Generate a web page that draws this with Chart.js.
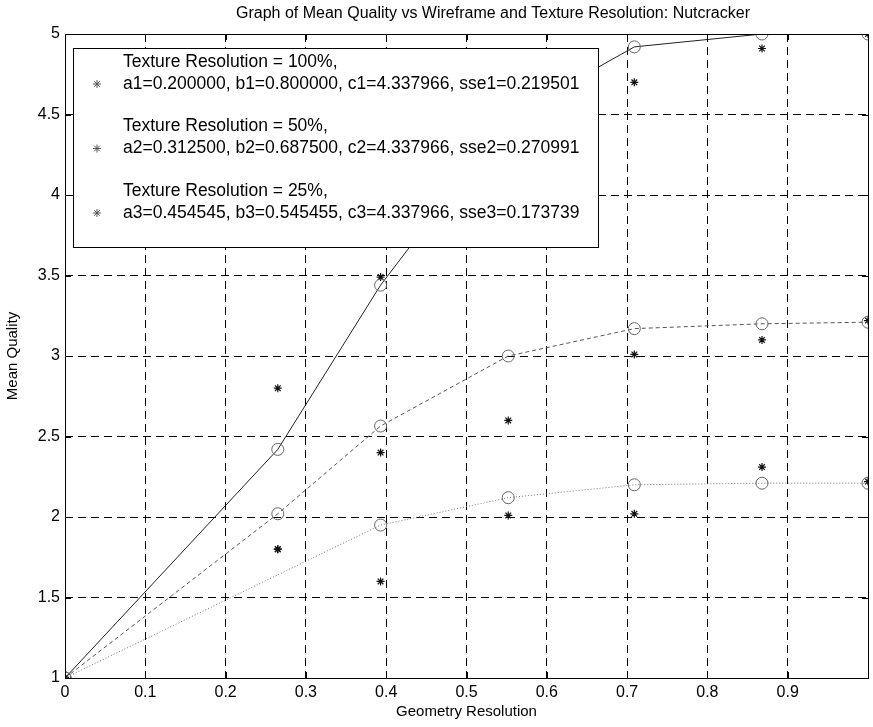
<!DOCTYPE html>
<html lang="en">
<head>
<meta charset="UTF-8">
<title>Mean Quality vs Geometry Resolution</title>
<script src="https://cdn.jsdelivr.net/npm/chart.js"></script>
<style>
    body { margin: 0; background: #fff; }
    #wrap { width: 873px; height: 727px; position: relative; }
</style>
</head>
<body>
<div id="wrap"><canvas id="qualityChart"></canvas></div>
<script>
// geometry resolution levels that were tested
const geometryRes = [0, 0.265, 0.393, 0.552, 0.709, 0.868, 1.0];

// fitted curves (circles), one per texture resolution
const fit100 = [1, 2.42, 3.44, 4.48, 4.92, 5.0, 5.0];
const fit50 = [1, 2.02, 2.565, 3.0, 3.17, 3.2, 3.21];
const fit25 = [1, null, 1.95, 2.12, 2.2, 2.21, 2.21];

// measured mean quality (stars)
const data100 = [1, 2.8, 3.49, 4.4, 4.7, 4.91, 5.0];
const data50 = [1, 1.8, 2.4, 2.6, 3.01, 3.1, 3.22];
const data25 = [1, 1.8, 1.6, 2.01, 2.02, 2.31, 2.22];

// the label at 1 falls off the right edge, so it stays blank
const xTicks = [0, 0.1, 0.2, 0.3, 0.4, 0.5, 0.6, 0.7, 0.8, 0.9, 1];
const xTickLabels = ['0', '0.1', '0.2', '0.3', '0.4', '0.5', '0.6', '0.7', '0.8', '0.9', ''];
const yTicks = [1, 1.5, 2, 2.5, 3, 3.5, 4, 4.5, 5];

const chartTitle = 'Graph of Mean Quality vs Wireframe and Texture Resolution: Nutcracker';
const legendLines = [
    ['Texture Resolution = 100%,', 'a1=0.200000, b1=0.800000, c1=4.337966, sse1=0.219501'],
    ['Texture Resolution = 50%,', 'a2=0.312500, b2=0.687500, c2=4.337966, sse2=0.270991'],
    ['Texture Resolution = 25%,', 'a3=0.454545, b3=0.545455, c3=4.337966, sse3=0.173739']
];

const FONT = '"Liberation Sans", Arial, sans-serif';

function pts(ys) {
    return geometryRes.map((x, i) => ({ x: x, y: ys[i] }));
}

function fitSet(ys, dash, color) {
    return {
        data: pts(ys),
        showLine: true,
        spanGaps: true,
        borderColor: color,
        borderWidth: 1,
        borderDash: dash,
        pointStyle: 'circle',
        pointRadius: 6,
        pointBorderColor: '#666',
        pointBackgroundColor: 'rgba(0,0,0,0)',
        pointBorderWidth: 1,
        fill: false,
        tension: 0
    };
}

function starSet(ys) {
    return {
        data: pts(ys),
        showLine: false,
        pointStyle: 'star',
        pointRadius: 4,
        pointBorderColor: '#111',
        pointBorderWidth: 1.2
    };
}

function drawStar(ctx, x, y, r) {
    ctx.beginPath();
    for (let k = 0; k < 4; k++) {
        const a = k * Math.PI / 4;
        ctx.moveTo(x - r * Math.cos(a), y - r * Math.sin(a));
        ctx.lineTo(x + r * Math.cos(a), y + r * Math.sin(a));
    }
    ctx.stroke();
}

// title, box, inward tick marks and the legend panel
const framePlugin = {
    id: 'frame',
    afterDraw(chart) {
        const ctx = chart.ctx;
        const a = chart.chartArea;
        const xs = chart.scales.x, ys = chart.scales.y;
        ctx.save();

        ctx.fillStyle = '#000';
        ctx.font = '16px ' + FONT;
        ctx.textAlign = 'center';
        ctx.textBaseline = 'middle';
        ctx.fillText(chartTitle, 493, 14);

        ctx.strokeStyle = '#000';
        ctx.lineWidth = 1;
        ctx.setLineDash([]);
        ctx.strokeRect(a.left + 0.5, a.top + 0.5, a.right - a.left, a.bottom - a.top);
        ctx.beginPath();
        xTicks.forEach(v => {
            const px = Math.round(xs.getPixelForValue(v)) + 0.5;
            ctx.moveTo(px, a.bottom); ctx.lineTo(px, a.bottom - 6);
            ctx.moveTo(px, a.top); ctx.lineTo(px, a.top + 6);
        });
        yTicks.forEach(v => {
            const py = Math.round(ys.getPixelForValue(v)) + 0.5;
            ctx.moveTo(a.left, py); ctx.lineTo(a.left + 6, py);
            ctx.moveTo(a.right, py); ctx.lineTo(a.right - 6, py);
        });
        ctx.stroke();

        // legend
        const lx = 73, ly = 48, lw = 525, lh = 199;
        ctx.fillStyle = '#fff';
        ctx.fillRect(lx, ly, lw, lh);
        ctx.strokeRect(lx + 0.5, ly + 0.5, lw, lh);
        ctx.fillStyle = '#000';
        ctx.font = '17.5px ' + FONT;
        ctx.textBaseline = 'middle';
        ctx.textAlign = 'left';
        legendLines.forEach((lines, i) => {
            const y0 = 62 + i * 64.5;
            ctx.fillText(lines[0], 123, y0);
            ctx.fillText(lines[1], 123, y0 + 22);
            ctx.strokeStyle = '#555';
            drawStar(ctx, 97, y0 + 22, 4);
        });
        ctx.restore();
    }
};

new Chart(document.getElementById('qualityChart'), {
    type: 'scatter',
    data: {
        datasets: [
            fitSet(fit100, [], '#222'),
            fitSet(fit50, [4, 3], '#555'),
            fitSet(fit25, [1, 2], '#777'),
            starSet(data100),
            starSet(data50),
            starSet(data25)
        ]
    },
    options: {
        responsive: true,
        maintainAspectRatio: false,
        animation: false,
        layout: { autoPadding: false, padding: { top: 34, right: 2, left: 0, bottom: 0 } },
        plugins: {
            legend: { display: false },
            tooltip: { enabled: false },
            title: { display: false }
        },
        scales: {
            x: {
                type: 'linear',
                min: 0,
                max: 1,
                afterBuildTicks(scale) {
                    scale.ticks = xTicks.map(v => ({ value: v }));
                },
                afterFit(scale) { scale.height = 49; },
                ticks: {
                    color: '#000',
                    font: { family: FONT, size: 16 },
                    padding: 5,
                    maxRotation: 0,
                    callback: (v, i) => xTickLabels[i]
                },
                grid: { color: '#000', lineWidth: 1, drawTicks: false },
                border: { display: false, dash: [8, 5] },
                title: {
                    display: true,
                    text: 'Geometry Resolution',
                    color: '#000',
                    font: { family: FONT, size: 15 },
                    padding: { top: 0, bottom: 6 }
                }
            },
            y: {
                type: 'linear',
                min: 1,
                max: 5,
                afterBuildTicks(scale) {
                    scale.ticks = yTicks.map(v => ({ value: v }));
                },
                afterFit(scale) { scale.width = 65; },
                ticks: {
                    color: '#000',
                    font: { family: FONT, size: 16 },
                    padding: 5,
                    callback: v => String(v)
                },
                grid: { color: '#000', lineWidth: 1, drawTicks: false },
                border: { display: false, dash: [8, 5] },
                title: {
                    display: true,
                    text: 'Mean Quality',
                    color: '#000',
                    font: { family: FONT, size: 15 },
                    padding: { top: 4, bottom: 2 }
                }
            }
        }
    },
    plugins: [framePlugin]
});
</script>
</body>
</html>
